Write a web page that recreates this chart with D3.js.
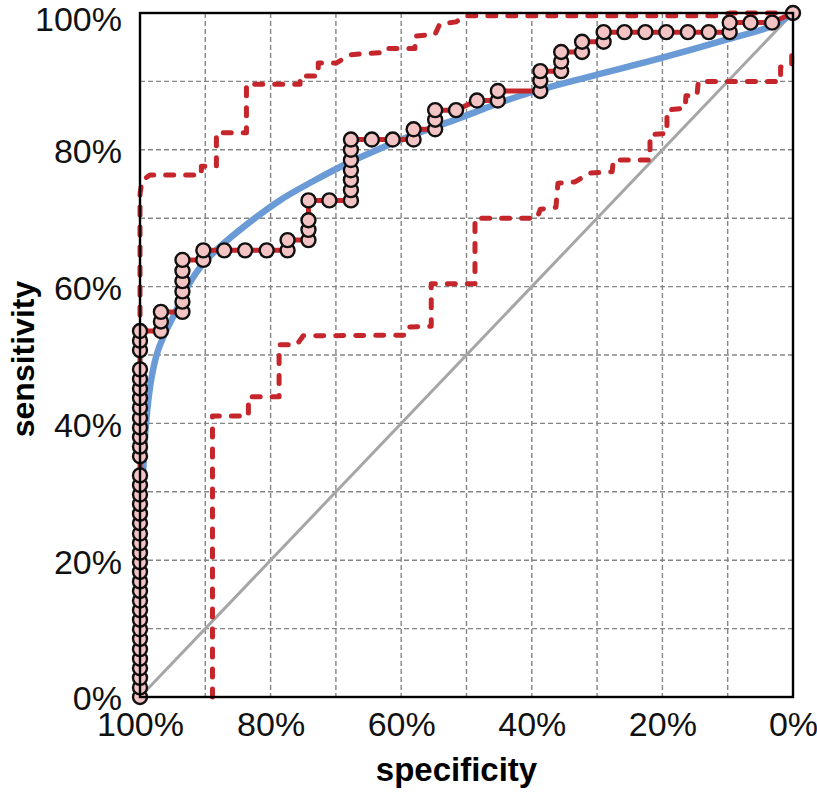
<!DOCTYPE html>
<html>
<head>
<meta charset="utf-8">
<script src="https://cdn.jsdelivr.net/npm/d3@7"></script>
<style>
body { margin: 0; background: #fff; }
svg { display: block; font-family: "Liberation Sans", Arial, sans-serif; }
</style>
</head>
<body>
<svg id="chart" width="817" height="792"></svg>
<script>
// tick labels and grid positions (percent)
var xTicks = [100, 80, 60, 40, 20, 0];
var yTicks = [0, 20, 40, 60, 80, 100];
var gridSteps = [10, 20, 30, 40, 50, 60, 70, 80, 90];

// empirical ROC: [specificity, sensitivity] in percent
var rocPoints = [
  [100, 0], [100, 1.4], [100, 2.8], [100, 4.2], [100, 5.6], [100, 7.0], [100, 8.5], [100, 9.9],
  [100, 11.3], [100, 12.7], [100, 14.1], [100, 15.5], [100, 16.9], [100, 18.3], [100, 19.7],
  [100, 21.1], [100, 22.5], [100, 23.9], [100, 25.4], [100, 26.8], [100, 28.2], [100, 29.6],
  [100, 31.0], [100, 32.4],
  [100, 35.2], [100, 36.6], [100, 38.0], [100, 39.4], [100, 40.8], [100, 42.3], [100, 43.7],
  [100, 45.1], [100, 46.5], [100, 47.9],
  [100, 50.7], [100, 52.1], [100, 53.5],
  [96.8, 53.5], [96.8, 54.9], [96.8, 56.3],
  [93.5, 56.3], [93.5, 57.8], [93.5, 59.3], [93.5, 60.8], [93.5, 62.3], [93.5, 63.9],
  [90.3, 63.9], [90.3, 65.3],
  [87.1, 65.3], [83.9, 65.3], [80.6, 65.3],
  [77.4, 65.3], [77.4, 66.8],
  [74.2, 66.8], [74.2, 68.3], [74.2, 69.7], [74.2, 72.6],
  [71.0, 72.6],
  [67.7, 72.6], [67.7, 74.1], [67.7, 75.6], [67.7, 77.0], [67.7, 78.5], [67.7, 80.0], [67.7, 81.5],
  [64.5, 81.5], [61.3, 81.5],
  [58.1, 81.5], [58.1, 83.0],
  [54.8, 83.0], [54.8, 84.4], [54.8, 85.8],
  [51.6, 85.8],
  [48.4, 87.2],
  [45.2, 87.2], [45.2, 88.6],
  [38.7, 88.6], [38.7, 90.1], [38.7, 91.5],
  [35.5, 91.5], [35.5, 92.9], [35.5, 94.3],
  [32.3, 94.3], [32.3, 95.8],
  [29.0, 95.8], [29.0, 97.2],
  [25.8, 97.2], [22.6, 97.2], [19.4, 97.2], [16.1, 97.2], [12.9, 97.2],
  [9.7, 97.2], [9.7, 98.6],
  [6.5, 98.6], [3.2, 98.6],
  [0, 100]
];

// smoothed ROC curve
var smoothCurve = [
  [100, 0], [99.9, 14.2], [99.8, 25.9], [99.5, 33.2], [99.1, 39.8], [98.3, 46.3], [97.4, 50.2],
  [96.4, 52.7], [94.4, 56.6], [92.6, 60.2], [90.3, 63.4], [87.2, 66.3], [84.7, 68.3], [78.6, 72.6],
  [73.5, 75.4], [68.3, 78.0], [63.2, 80.2], [58.1, 82.2], [52.0, 84.3], [41.8, 87.9], [31.6, 90.6],
  [21.4, 93.1], [10.2, 96.1], [3.0, 98.2], [0, 100]
];

// confidence band of sensitivity
var ciUpper = [
  [100, 50], [100, 73.5], [99.7, 75.5], [98.5, 76.3], [90.6, 76.3], [90.6, 77.6], [88.3, 77.6],
  [88.3, 82.5], [83.7, 82.5], [83.7, 89.6], [75.5, 89.6], [75.5, 90.8], [72.7, 90.8], [72.7, 92.7],
  [69.9, 92.7], [67.8, 93.9], [63.2, 94.2], [62.8, 94.8], [57.9, 94.8], [57.9, 96.6], [54.8, 96.9],
  [54.1, 98.4], [51.6, 98.7], [50.2, 99.6], [11.2, 99.6], [9.6, 100], [0, 100]
];
var ciLower = [
  [88.9, 0], [88.9, 41.1], [83.4, 41.1], [83.4, 43.9], [78.7, 43.9], [78.7, 51.5], [76.0, 51.5],
  [75.0, 52.8], [59.4, 52.9], [59.0, 54.1], [55.4, 54.2], [55.4, 60.4], [48.7, 60.4], [48.7, 70.0],
  [39.2, 70.0], [38.7, 71.3], [36.3, 71.6], [36.0, 75.1], [33.4, 75.3], [31.1, 76.6], [27.7, 76.8],
  [27.5, 78.5], [21.9, 78.5], [21.9, 82.2], [19.3, 82.4], [19.3, 85.8], [16.5, 86.1], [16.4, 87.9],
  [14.7, 88.0], [14.5, 90.0], [1.9, 90.0], [1.9, 92.1], [0.2, 92.4], [0.2, 95.2]
];

var chance = [[100, 0], [0, 100]];

var margin = {top: 13, right: 24, bottom: 95, left: 140},
    full_width = 817,
    full_height = 792,
    width = full_width - margin.left - margin.right,
    height = full_height - margin.top - margin.bottom;

var x = d3.scaleLinear().domain([100, 0]).range([0, width]);
var y = d3.scaleLinear().domain([0, 100]).range([height, 0]);

var svg = d3.select('#chart')
  .append('g')
  .attr('transform', 'translate(' + margin.left + ',' + margin.top + ')');

// grid
var grid = svg.append('g').attr('class', 'grid');
grid.selectAll('line.v').data(gridSteps).enter().append('line')
  .attr('class', 'v')
  .attr('x1', function(d) { return x(d); }).attr('x2', function(d) { return x(d); })
  .attr('y1', 0).attr('y2', height);
grid.selectAll('line.h').data(gridSteps).enter().append('line')
  .attr('class', 'h')
  .attr('x1', 0).attr('x2', width)
  .attr('y1', function(d) { return y(d); }).attr('y2', function(d) { return y(d); });
grid.selectAll('line')
  .attr('stroke', '#858585').attr('stroke-width', 1.4).attr('stroke-dasharray', '5,3');

var line = d3.line()
  .x(function(d) { return x(d[0]); })
  .y(function(d) { return y(d[1]); });

// chance diagonal
svg.append('path').datum(chance)
  .attr('d', line).attr('fill', 'none')
  .attr('stroke', '#a6a6a6').attr('stroke-width', 3);

// confidence limits
[ciUpper, ciLower].forEach(function(ci) {
  svg.append('path').datum(ci)
    .attr('d', line).attr('fill', 'none')
    .attr('stroke', '#c4262b').attr('stroke-width', 5)
    .attr('stroke-linecap', 'round').attr('stroke-linejoin', 'round')
    .attr('stroke-dasharray', '8,12');
});

// smoothed curve
var smoothLine = d3.line()
  .x(function(d) { return x(d[0]); })
  .y(function(d) { return y(d[1]); })
  .curve(d3.curveCatmullRom.alpha(0.5));
svg.append('path').datum(smoothCurve)
  .attr('d', smoothLine).attr('fill', 'none')
  .attr('stroke', '#6b9bd6').attr('stroke-width', 6.5);

// empirical curve
svg.append('path').datum(rocPoints)
  .attr('d', line).attr('fill', 'none')
  .attr('stroke', '#c4262b').attr('stroke-width', 5);

svg.selectAll('.pt').data(rocPoints).enter().append('circle')
  .attr('class', 'pt')
  .attr('cx', function(d) { return x(d[0]); })
  .attr('cy', function(d) { return y(d[1]); })
  .attr('r', 7)
  .attr('fill', '#f3c4c3').attr('stroke', '#111').attr('stroke-width', 2.4);

// frame
svg.append('rect')
  .attr('width', width).attr('height', height)
  .attr('fill', 'none').attr('stroke', '#000').attr('stroke-width', 2.4);

// axes
var xAxis = svg.append('g')
  .attr('transform', 'translate(0,' + height + ')')
  .call(d3.axisBottom(x).tickValues(xTicks).tickSize(0).tickPadding(15)
    .tickFormat(function(d) { return d + '%'; }));
var yAxis = svg.append('g')
  .call(d3.axisLeft(y).tickValues(yTicks).tickSize(0).tickPadding(18)
    .tickFormat(function(d) { return d + '%'; }));
[xAxis, yAxis].forEach(function(a) {
  a.select('.domain').remove();
  a.selectAll('text').attr('font-size', 34).attr('fill', '#111')
    .attr('font-family', '"Liberation Sans", Arial, sans-serif');
});
yAxis.selectAll('text').attr('dy', function(d) { return d === 100 ? '0.5em' : '0.38em'; });

// axis titles
svg.append('text')
  .attr('x', width / 2 - 10).attr('y', height + 84)
  .attr('text-anchor', 'middle')
  .attr('font-size', 33).attr('font-weight', 'bold')
  .text('specificity');
svg.append('text')
  .attr('transform', 'translate(' + (-106) + ',' + (height / 2 + 4) + ') rotate(-90)')
  .attr('text-anchor', 'middle')
  .attr('font-size', 32).attr('font-weight', 'bold')
  .text('sensitivity');
</script>
</body>
</html>
